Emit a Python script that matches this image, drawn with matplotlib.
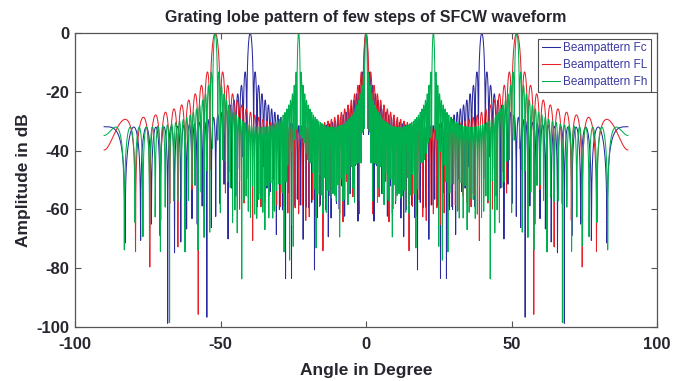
import numpy as np
import matplotlib.pyplot as plt

plt.rcParams['font.family'] = ['Liberation Sans', 'DejaVu Sans']
plt.rcParams['axes.unicode_minus'] = False

# angles (deg) where the first grating lobe shows up for each frequency
lobe_fc = 39.8
lobe_fl = 51.8
lobe_fh = 23.15
n_elements = 40            # number of steps / elements
angle_step = 0.05          # sampling of the scan angle in degrees

labels = ['Beampattern Fc', 'Beampattern FL', 'Beampattern Fh']
colors = ['#2a2aa0', '#e8202a', '#00b04f']

theta = np.arange(-90, 90 + angle_step / 2, angle_step)
u = np.sin(np.deg2rad(theta))


def beampattern(lobe_deg):
    # element spacing in wavelengths so that the first grating lobe lands at lobe_deg
    d = 1.0 / np.sin(np.deg2rad(lobe_deg))
    psi = np.pi * d * u
    num = np.sin(n_elements * psi)
    den = n_elements * np.sin(psi)
    small = np.abs(den) < 1e-12
    af = np.where(small, 1.0, num / np.where(small, 1.0, den))
    return 20 * np.log10(np.abs(af) + 1e-12)


fig = plt.figure(figsize=(6.73, 3.81), dpi=100)
ax = fig.add_axes([75 / 673, 1 - 327 / 381, 582 / 673, 294 / 381])

for lobe, lab, col in zip([lobe_fc, lobe_fl, lobe_fh], labels, colors):
    ax.plot(theta, beampattern(lobe), color=col, linewidth=0.75, label=lab)

ax.set_xlim(-100, 100)
ax.set_ylim(-100, 0)
ax.set_xticks([-100, -50, 0, 50, 100])
ax.set_yticks([0, -20, -40, -60, -80, -100])
ax.tick_params(direction='in', top=True, right=True, length=4, width=0.8,
               color='#555555', labelsize=12, labelcolor='#26262e')
ax.tick_params(axis='x', pad=7)
ax.tick_params(axis='y', pad=4)
for t in ax.get_xticklabels() + ax.get_yticklabels():
    t.set_fontweight('bold')
for s in ax.spines.values():
    s.set_color('#555555')
    s.set_linewidth(0.9)

ax.set_title('Grating lobe pattern of few steps of SFCW waveform',
             fontsize=11.5, fontweight='bold', color='#26262e', pad=8)
ax.set_xlabel('Angle in Degree', fontsize=12.5, fontweight='bold', color='#26262e', labelpad=8)
ax.set_ylabel('Amplitude in dB', fontsize=12.5, fontweight='bold', color='#26262e', labelpad=4)

leg = ax.legend(loc='upper right', fontsize=8.5, frameon=True, fancybox=False,
                edgecolor='#222222', handlelength=1.5, borderpad=0.3,
                labelspacing=0.42, handletextpad=0.3, borderaxespad=0.5)
leg.get_frame().set_linewidth(0.8)
for t in leg.get_texts():
    t.set_color('#3a3aa0')

fig.savefig('out.png', dpi=100)
